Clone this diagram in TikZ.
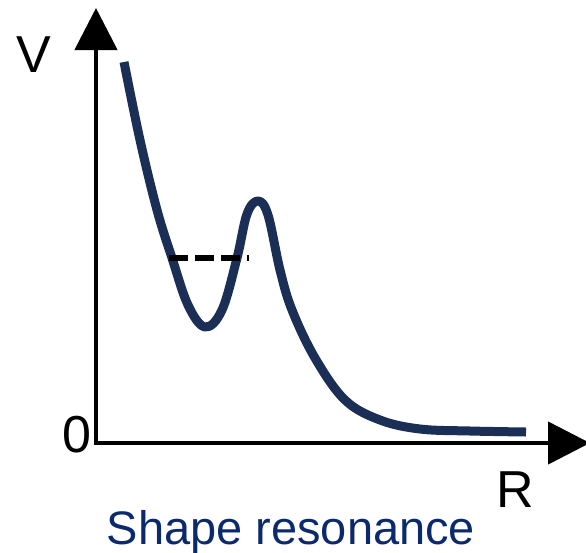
\documentclass[tikz,border=0pt]{standalone}
\usepackage{fontspec}
\setmainfont{Liberation Sans}
\usetikzlibrary{arrows.meta}
\definecolor{curvenavy}{HTML}{1B2F56}
\definecolor{labelblue}{HTML}{0B2A6E}
\tikzset{
  axisline/.style={line width=4.5pt, black, {Triangle[length=42pt,width=42pt]}-{Triangle[length=42pt,width=42pt]}},
  potential/.style={line width=9pt, curvenavy, line cap=butt, line join=round},
  levelline/.style={line width=6.5pt, black, dash pattern=on 19pt off 7pt},
  axislabel/.style={font=\fontsize{52}{52}\selectfont, anchor=base, inner sep=0pt},
  caption/.style={font=\fontsize{47}{48}\selectfont, text=labelblue, anchor=base, inner sep=0pt}
}
\begin{document}
\begin{tikzpicture}[x=1pt,y=-1pt]
\useasboundingbox (0,0) rectangle (586,552);
\coordinate (ytop) at (96,8);
\coordinate (origin) at (96,443);
\coordinate (xend) at (590,443);
\draw[axisline] (ytop) -- (origin) -- (xend);
\draw[potential] plot[smooth, tension=0.6] coordinates {
  (124,62) (140,140) (157,210) (172,258) (188,305) (205,327) (222,310)
  (237,258) (247,214) (258,201) (268,215) (280,270) (292,310) (315,358)
  (345,400) (380,420) (420,429) (470,431) (526,432)};
\coordinate (lvlL) at (169,258);
\coordinate (lvlR) at (249,258);
\draw[levelline] (lvlL) -- (lvlR);
\node[axislabel] (vlabel) at (34,72) {V};
\node[axislabel] (zlabel) at (76.5,452) {0};
\node[axislabel] (rlabel) at (515,507) {R};
\node[caption] (cap) at (291,544) {Shape resonance};
\end{tikzpicture}
\end{document}
